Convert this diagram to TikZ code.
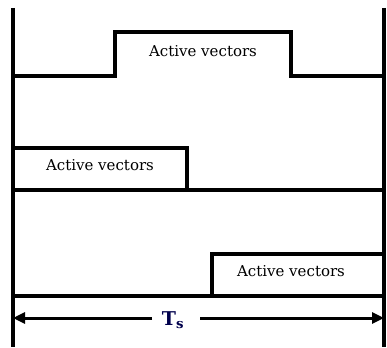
\documentclass[tikz,border=0pt]{standalone}
\usepackage{fontspec}
\setmainfont{DejaVu Serif}
\usetikzlibrary{arrows.meta}
\begin{document}
\begin{tikzpicture}[x=1pt,y=-1pt,
  wire/.style={line width=3.4pt,line cap=rect},
  lbl/.style={font=\fontsize{15}{17}\selectfont,inner sep=0pt},
  tsarrow/.style={line width=3pt,-{Triangle[length=12pt,width=11pt]}}]
\useasboundingbox (0,0) rectangle (387,347);
% frame verticals
\coordinate (lt) at (13,8);  \coordinate (lb) at (13,347);
\coordinate (rt) at (384,8); \coordinate (rb) at (384,347);
\draw[wire,line cap=butt] (lt) -- (lb);
\draw[wire,line cap=butt] (rt) -- (rb);
% row 1
\draw[wire] (13,76) -- (115,76) -- (115,32) -- (291,32) -- (291,76) -- (384,76);
\node[lbl] (a1) at (203,51) {Active vectors};
% row 2
\draw[wire] (13,148) -- (187,148) -- (187,190) -- (384,190);
\draw[wire] (13,190) -- (187,190);
\node[lbl] (a2) at (100,165) {Active vectors};
% row 3
\draw[wire] (13,296) -- (212,296) -- (212,254) -- (384,254);
\draw[wire] (212,296) -- (384,296);
\node[lbl] (a3) at (291,271) {Active vectors};
% Ts arrow
\node[inner sep=0pt,text=blue!30!black,font=\fontsize{19}{21}\selectfont\bfseries] (ts) at (173,320) {T$_{\mathbf{s}}$};
\coordinate (al) at (13,318);
\coordinate (ar) at (384,318);
\draw[tsarrow] (152,318) -- (al);
\draw[tsarrow] (200,318) -- (ar);
\end{tikzpicture}
\end{document}
